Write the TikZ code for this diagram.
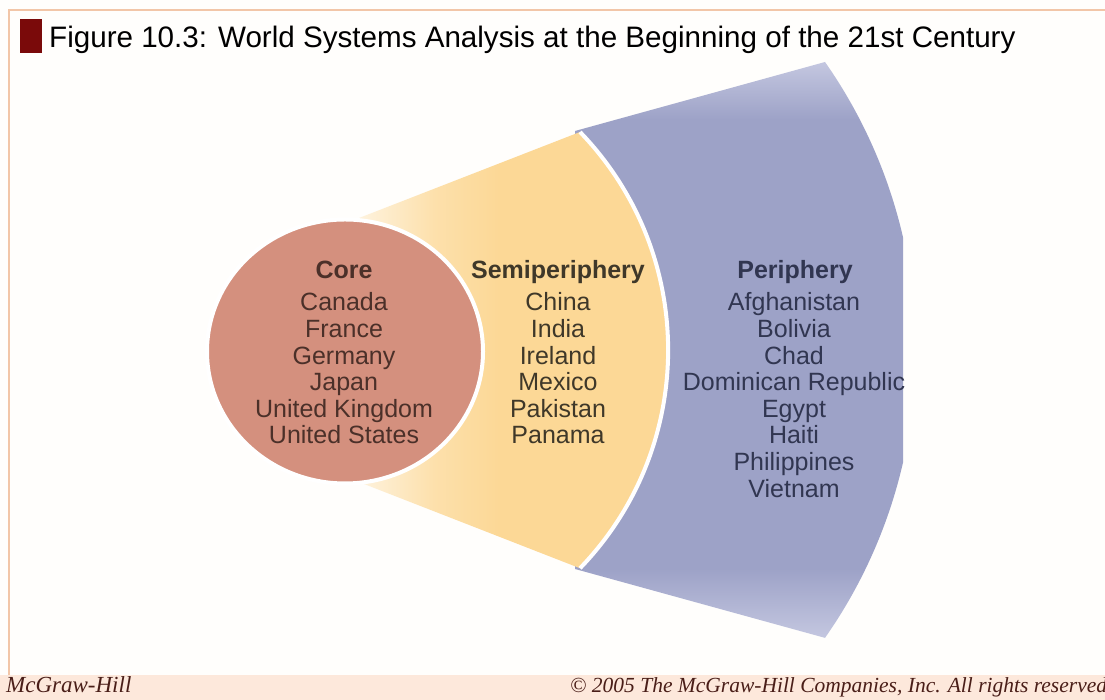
\documentclass[tikz,border=0pt]{standalone}
\usepackage{fontspec}
\setmainfont{Liberation Sans}
\newfontfamily\footfont{Liberation Serif}
\usetikzlibrary{positioning}

\definecolor{pagecol}{HTML}{FFFEFC}
\definecolor{corecol}{HTML}{D4907E}
\definecolor{semicol}{HTML}{FCD896}
\definecolor{pericol}{HTML}{9DA2C7}
\definecolor{perilight}{HTML}{C4C7E0}
\definecolor{titlered}{HTML}{7A0A0A}
\definecolor{framecol}{HTML}{F2C6A8}
\definecolor{footcol}{HTML}{FDE8DB}
\definecolor{coretext}{HTML}{4B3029}
\definecolor{semitext}{HTML}{3F3829}
\definecolor{peritext}{HTML}{313651}
\definecolor{foottext}{HTML}{4A1E18}

\pgfdeclarehorizontalshading{semifan}{100bp}{color(0bp)=(white); color(25bp)=(white); color(33bp)=(semicol!35); color(42bp)=(semicol!80); color(50bp)=(semicol); color(100bp)=(semicol)}
\pgfdeclareverticalshading{perifan}{100bp}{color(0bp)=(perilight); color(25bp)=(perilight); color(31bp)=(pericol); color(70bp)=(pericol); color(75bp)=(perilight); color(100bp)=(perilight)}

\begin{document}
\begin{tikzpicture}[
    x=1pt, y=1pt,
    headtext/.style={font=\fontsize{25}{26.6}\selectfont\bfseries, anchor=base, inner sep=0pt},
    listtext/.style={font=\fontsize{25}{26.6}\selectfont, align=center, inner sep=0pt},
    zone/.style={draw=white, line width=4pt}
]
\fill[pagecol] (0,0) rectangle (1105,700);
\useasboundingbox (0,0) rectangle (1105,700);

% Frame, title and footer band
\fill[footcol] (0,0) rectangle (1105,25);
\draw[framecol, line width=1.5pt] (9,25) -- (9,690) -- (1105,690);
\fill[titlered] (20,647) rectangle (42,681);
\node[anchor=base west, inner sep=0pt, font=\fontsize{29.6}{32}\selectfont] (title) at (49,652)
    {Figure 10.3: World Systems Analysis at the Beginning of the 21st Century};
\node[anchor=base west, inner sep=0pt, text=foottext, font=\footfont\itshape\fontsize{23}{26}\selectfont] (publisher) at (6,7) {McGraw-Hill};
\node[anchor=base west, inner sep=0pt, text=foottext, font=\footfont\itshape\fontsize{21.5}{24}\selectfont] (copyright) at (570,7)
    {\textcopyright\ 2005 The McGraw-Hill Companies, Inc. All rights reserved};

% Periphery band (cut off on the right)
\begin{scope}
  \clip (0,0) rectangle (903,700);
  \shade[shading=perifan] (575,569) -- (825,638) arc[start angle=35, end angle=-35, radius=502] -- (575,131) -- cycle;
\end{scope}

% Semiperiphery band
\shade[shading=semifan] (300,459) -- (580,568) arc[start angle=44, end angle=-44, radius=314] -- (300,241) -- cycle;
\draw[white, line width=4pt] (580,568) arc[start angle=44, end angle=-44, radius=314];

% Core
\filldraw[zone, fill=corecol] (345,348.5) ellipse[x radius=138, y radius=132];

% Labels
\node[headtext, text=coretext] (corehead) at (344,421) {Core};
\node[listtext, text=coretext] (corelist) at (344,331.5)
    {Canada\\France\\Germany\\Japan\\United Kingdom\\United States};
\node[headtext, text=semitext] (semihead) at (558,421) {Semiperiphery};
\node[listtext, text=semitext] (semilist) at (558,331.5)
    {China\\India\\Ireland\\Mexico\\Pakistan\\Panama};
\node[headtext, text=peritext] (perihead) at (795,421) {Periphery};
\node[listtext, text=peritext] (perilist) at (794,305)
    {Afghanistan\\Bolivia\\Chad\\Dominican Republic\\Egypt\\Haiti\\Philippines\\Vietnam};
\end{tikzpicture}
\end{document}
